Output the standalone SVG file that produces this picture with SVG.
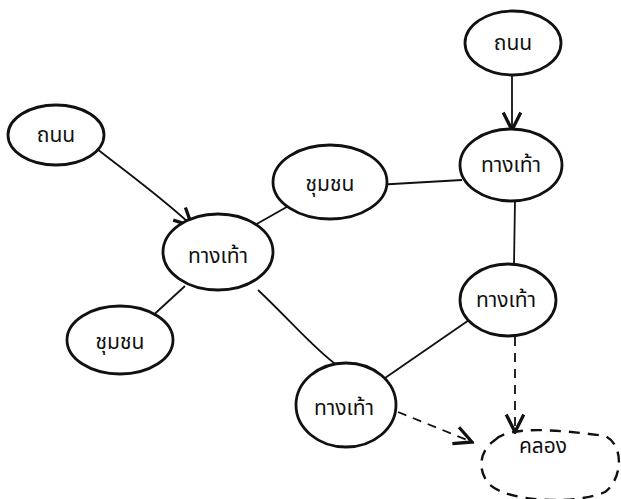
<svg xmlns="http://www.w3.org/2000/svg" width="621" height="499" viewBox="0 0 621 499">
<style>
.n{fill:#fff;stroke:#111;stroke-width:2.8}
.d{fill:none;stroke:#111;stroke-width:2.4;stroke-dasharray:11 8}
.t{font-family:"Noto Sans Thai","Noto Sans","DejaVu Sans",sans-serif;font-size:21px;fill:#111;text-anchor:middle;dominant-baseline:central}
.e{fill:none;stroke:#111;stroke-width:1.8}
.de{fill:none;stroke:#111;stroke-width:1.8;stroke-dasharray:9 7}
</style>
<defs>
<marker id="a" viewBox="0 0 12 12" refX="11" refY="6" markerWidth="12" markerHeight="12" markerUnits="userSpaceOnUse" orient="auto">
<path d="M1,1 L11,6 L1,11" fill="none" stroke="#111" stroke-width="2.4"/>
</marker>
<marker id="b" viewBox="0 0 20 20" refX="18" refY="10" markerWidth="22" markerHeight="22" markerUnits="userSpaceOnUse" orient="auto">
<path d="M2,2 L18,10 L2,18" fill="none" stroke="#111" stroke-width="3"/>
</marker>
</defs>
<g id="connectors">
<path class="e" d="M92,145 C130,175 165,200 192,226" marker-end="url(#b)"/>
<path class="e" d="M512,72 L512,130" marker-end="url(#b)"/>
<path class="e" d="M375,185 L462,180"/>
<path class="e" d="M292,204 L246,230"/>
<path class="e" d="M185,286 L148,320"/>
<path class="e" d="M258,290 C290,320 315,350 338,366"/>
<path class="e" d="M385,378 L472,318"/>
<path class="e" d="M515,200 L514,265"/>
<path class="de" d="M515,337 L515,432" marker-end="url(#b)"/>
<path class="de" d="M398,412 L472,442" marker-end="url(#b)"/>
</g>
<g id="n1"><ellipse class="n" cx="513" cy="43" rx="48" ry="32"/><text class="t" x="513" y="43">ถนน</text></g>
<g id="n2"><ellipse class="n" cx="56" cy="135" rx="48" ry="30"/><text class="t" x="56" y="135">ถนน</text></g>
<g id="n3"><ellipse class="n" cx="330" cy="182" rx="57" ry="37"/><text class="t" x="330" y="184">ชุมชน</text></g>
<g id="n4"><ellipse class="n" cx="511" cy="165" rx="51" ry="36"/><text class="t" x="511" y="165">ทางเท้า</text></g>
<g id="n5"><ellipse class="n" cx="218" cy="252" rx="55" ry="38"/><text class="t" x="218" y="256">ทางเท้า</text></g>
<g id="n6"><ellipse class="n" cx="120" cy="340" rx="53" ry="34"/><text class="t" x="120" y="342">ชุมชน</text></g>
<g id="n7"><ellipse class="n" cx="508" cy="300" rx="48" ry="36"/><text class="t" x="506" y="300">ทางเท้า</text></g>
<g id="n8"><ellipse class="n" cx="346" cy="405" rx="50" ry="42"/><text class="t" x="344" y="408">ทางเท้า</text></g>
<g id="n9"><path class="d" d="M495,440 C510,425 560,430 605,436 C625,445 622,480 605,492 C575,505 510,502 490,485 C476,470 480,450 495,440 Z"/><text class="t" x="543" y="446">คลอง</text></g>
</svg>
